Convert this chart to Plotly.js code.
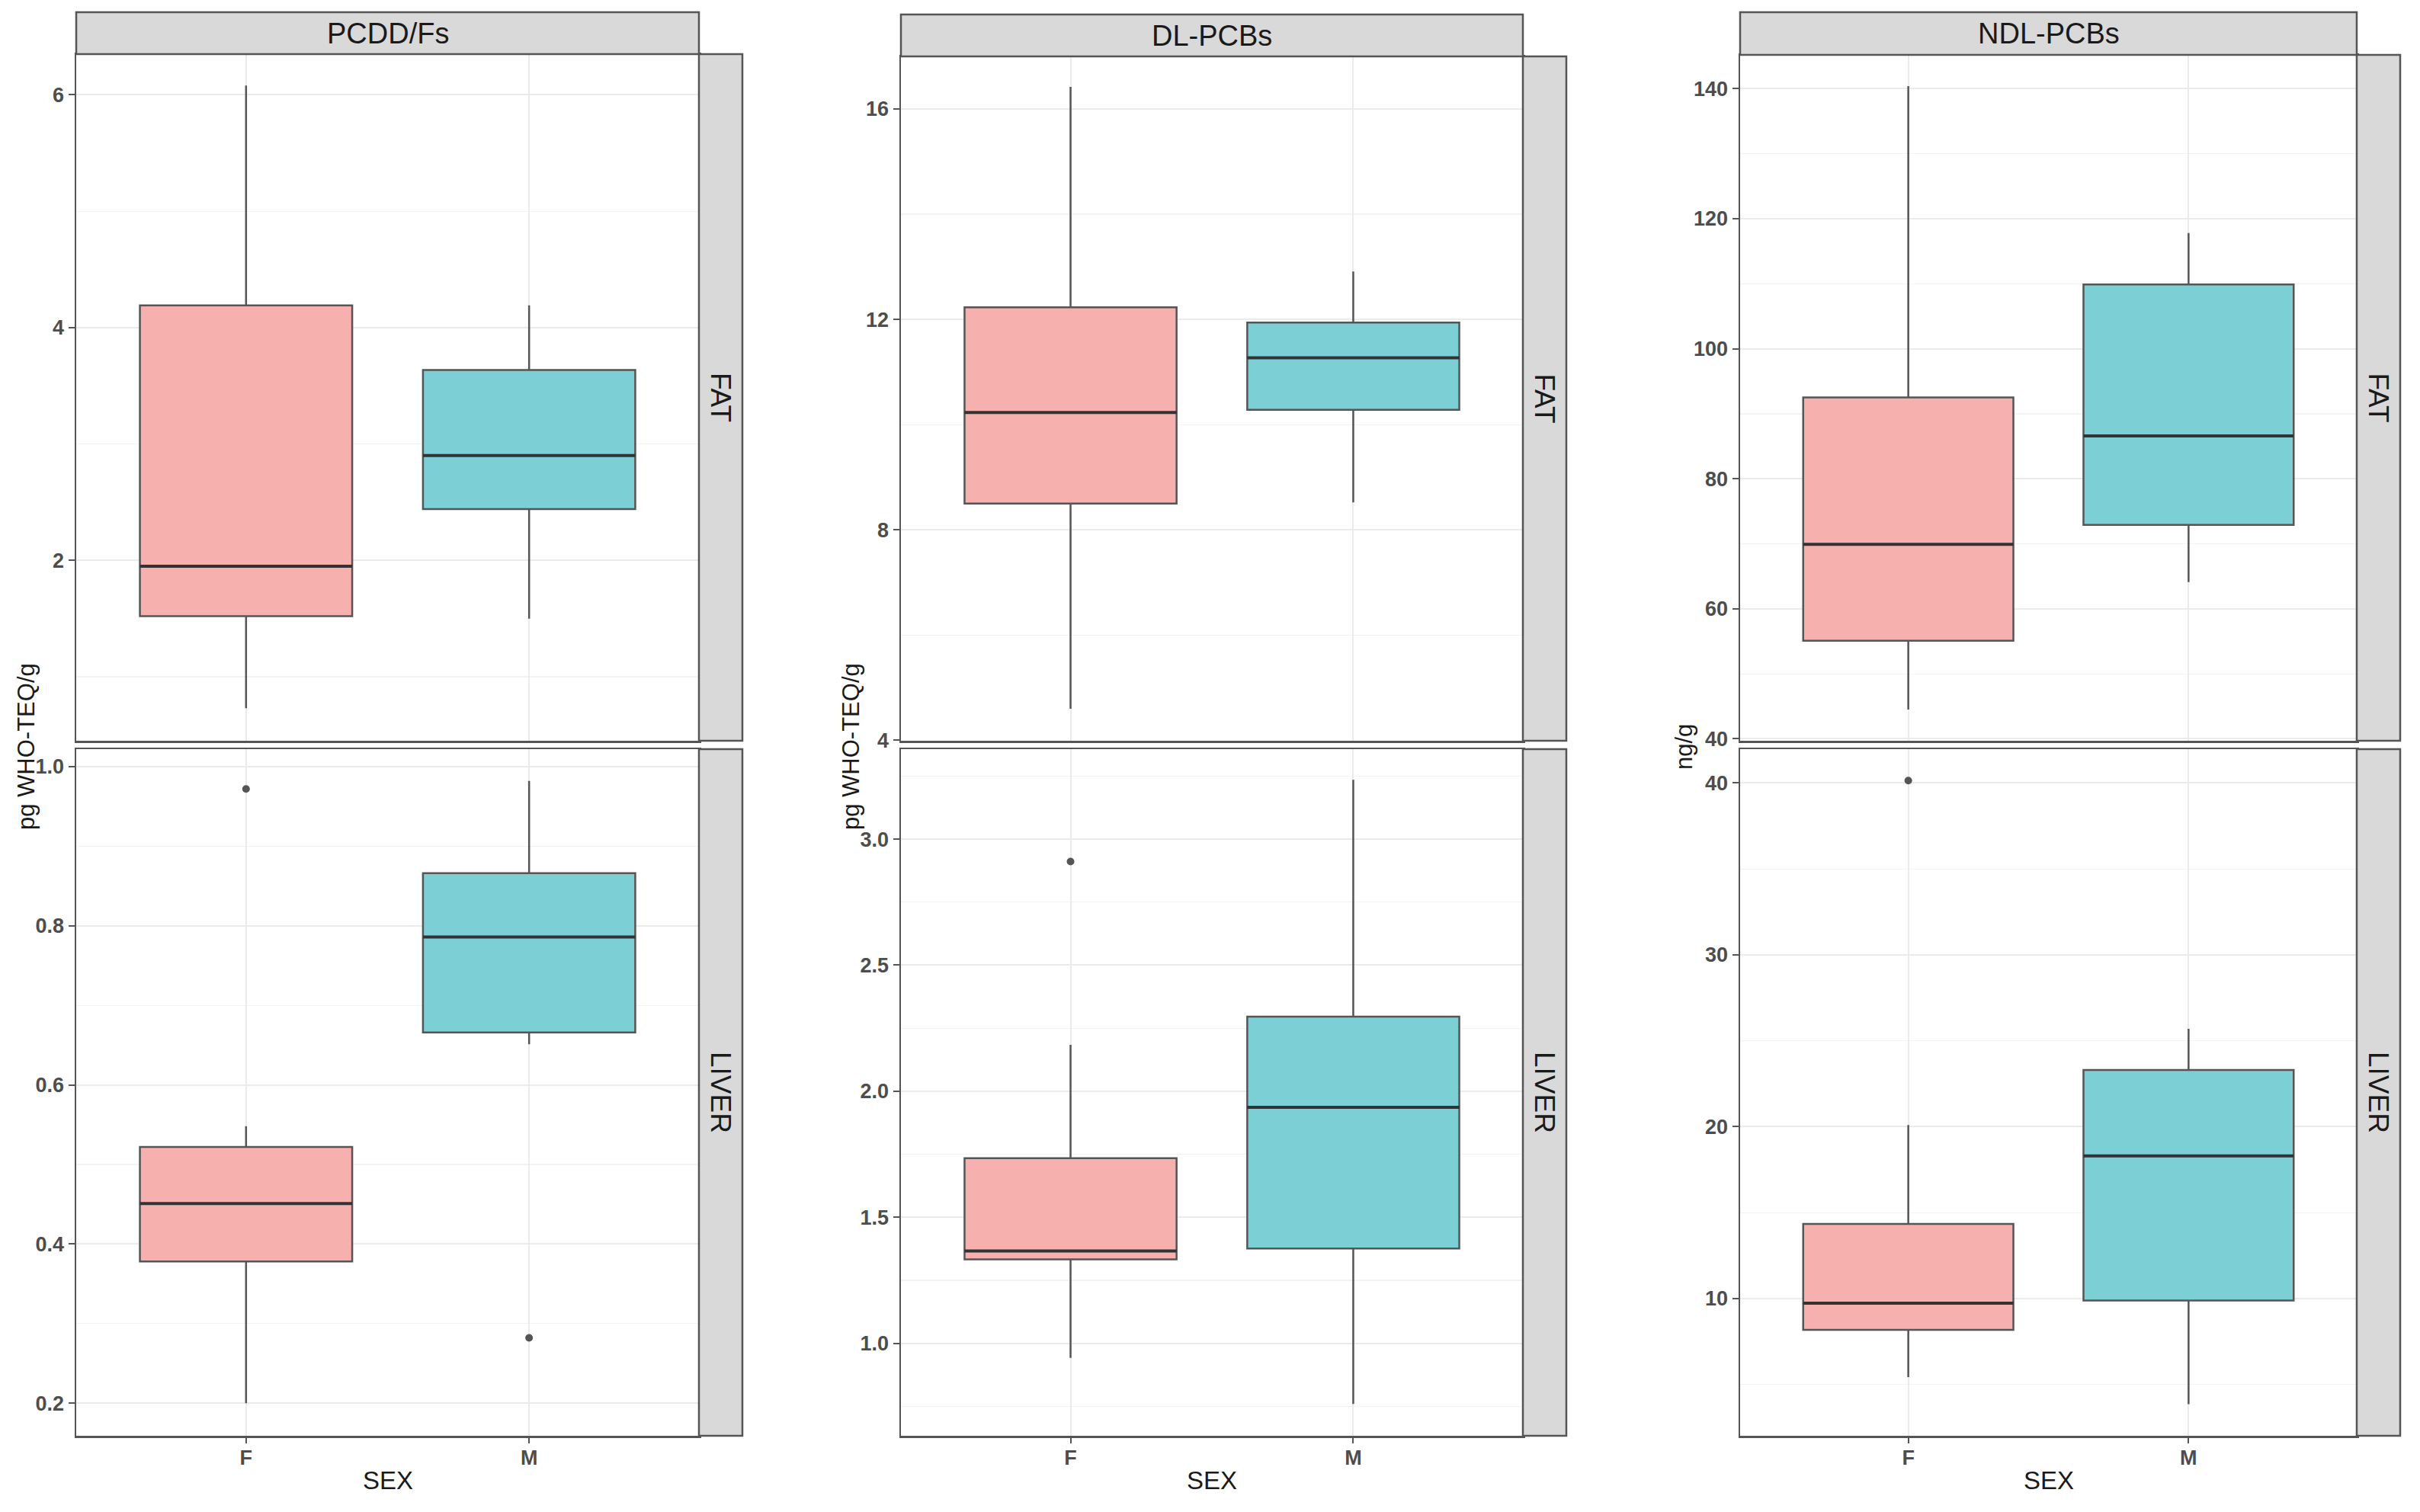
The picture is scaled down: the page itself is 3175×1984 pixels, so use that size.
<!DOCTYPE html>
<html><head><meta charset="utf-8">
<script src="https://cdn.plot.ly/plotly-3.0.1.min.js"></script>
<style>html,body{margin:0;padding:0;background:#fff;}</style>
</head><body><div id="chart" style="width:3175px;height:1984px;"></div>
<script>
// ---------- data ----------
const sexes = ['F', 'M'];
const compounds = ['PCDD/Fs', 'DL-PCBs', 'NDL-PCBs'];
const tissues = ['FAT', 'LIVER'];
const yTitles = ['pg WHO-TEQ/g', 'pg WHO-TEQ/g', 'ng/g'];
const xTitle = 'SEX';

// [lower whisker, Q1, median, Q3, upper whisker]
const pcddFatF   = [0.73, 1.52, 1.95, 4.19, 6.08];
const pcddFatM   = [1.50, 2.44, 2.90, 3.635, 4.19];
const pcddLiverF = [0.200, 0.378, 0.451, 0.522, 0.548];
const pcddLiverM = [0.651, 0.666, 0.786, 0.866, 0.982];
const dlFatF     = [4.60, 8.50, 10.23, 12.23, 16.42];
const dlFatM     = [8.52, 10.28, 11.27, 11.94, 12.91];
const dlLiverF   = [0.942, 1.333, 1.366, 1.734, 2.184];
const dlLiverM   = [0.759, 1.376, 1.936, 2.296, 3.235];
const ndlFatF    = [44.5, 55.1, 69.9, 92.5, 140.4];
const ndlFatM    = [64.1, 72.9, 86.6, 109.9, 117.8];
const ndlLiverF  = [5.43, 8.18, 9.74, 14.35, 20.1];
const ndlLiverM  = [3.86, 9.89, 18.3, 23.3, 25.7];

// outliers
const pcddFatOutF = [], pcddFatOutM = [];
const pcddLiverOutF = [0.972], pcddLiverOutM = [0.282];
const dlFatOutF = [], dlFatOutM = [];
const dlLiverOutF = [2.911], dlLiverOutM = [];
const ndlFatOutF = [], ndlFatOutM = [];
const ndlLiverOutF = [40.14], ndlLiverOutM = [];

// axis settings (ranges / ticks)
const yRanges = [[0.45, 6.35], [3.99, 17.0], [39.7, 145.2], [0.159, 1.022], [0.633, 3.357], [2.02, 41.97]];
const yDticks = [2, 4, 20, 0.2, 0.5, 10];
const yMinor  = [1, 2, 10, 0.1, 0.25, 5];
const yFormat = ['', '', '', '.1f', '.1f', ''];

const stats = [
  [pcddFatF, pcddFatM], [dlFatF, dlFatM], [ndlFatF, ndlFatM],
  [pcddLiverF, pcddLiverM], [dlLiverF, dlLiverM], [ndlLiverF, ndlLiverM]
];
const outs = [
  [pcddFatOutF, pcddFatOutM], [dlFatOutF, dlFatOutM], [ndlFatOutF, ndlFatOutM],
  [pcddLiverOutF, pcddLiverOutM], [dlLiverOutF, dlLiverOutM], [ndlLiverOutF, ndlLiverOutM]
];

// ---------- layout geometry (pixels) ----------
const W = 3175, H = 1984;
const px = v => v / W;
const py = v => 1 - v / H;
const colX = [[100, 917], [1182, 1998], [2283, 3092]];
const stripW = 57;
const stripTop = [[16, 71], [19, 74], [16, 72]];
const rowY = [[[71, 972], [74, 972], [72, 972]], [[983, 1884], [983, 1884], [983, 1884]]];
const fills = ['#F6B0AE', '#7CCFD5'];
const boxW = 0.75;
const font = 'Liberation Sans, Arial, sans-serif';

const traces = [];
const layout = {
  width: W, height: H, margin: {l: 0, r: 0, t: 0, b: 0},
  paper_bgcolor: '#fff', plot_bgcolor: '#fff', showlegend: false,
  boxmode: 'overlay', shapes: [], annotations: []
};

for (let r = 0; r < 2; r++) {
  for (let c = 0; c < 3; c++) {
    const k = r * 3 + c;
    const i = k + 1;
    const [L, R] = colX[c];
    const [T, B] = rowY[r][c];
    layout['xaxis' + i] = {
      domain: [px(L), px(R)], range: [0.4, 2.6], anchor: 'y' + i,
      tickvals: [1, 2], ticktext: sexes, showticklabels: r === 1,
      ticks: r === 1 ? 'outside' : '', ticklen: 7, tickwidth: 2, tickcolor: '#555',
      ticklabelstandoff: -4,
      tickfont: {family: font, size: 27, color: '#4D4D4D', weight: 'bold'},
      showgrid: true, gridcolor: '#EBEBEB', gridwidth: 2,
      showline: true, mirror: true, linecolor: '#555', linewidth: 2.5, zeroline: false, fixedrange: true
    };
    layout['yaxis' + i] = {
      domain: [py(B), py(T)], range: yRanges[k], anchor: 'x' + i,
      dtick: yDticks[k], tick0: 0, tickformat: yFormat[k],
      ticks: 'outside', ticklen: 8, tickwidth: 2, tickcolor: '#555',
      tickfont: {family: font, size: 27, color: '#4D4D4D', weight: 'bold'},
      showgrid: true, gridcolor: '#EBEBEB', gridwidth: 2,
      minor: {dtick: yMinor[k], tick0: 0, showgrid: true, gridcolor: '#F3F3F3', gridwidth: 1.2, ticks: ''},
      showline: true, mirror: true, linecolor: '#555', linewidth: 2.5, zeroline: false, fixedrange: true
    };
    for (let s = 0; s < 2; s++) {
      const st = stats[k][s];
      const pos = s + 1;
      traces.push({
        type: 'box', x: [pos], lowerfence: [st[0]], q1: [st[1]], median: [st[2]], q3: [st[3]], upperfence: [st[4]],
        width: boxW, fillcolor: fills[s], line: {color: '#555', width: 2.5}, whiskerwidth: 0,
        boxpoints: false, xaxis: 'x' + i, yaxis: 'y' + i, hoverinfo: 'skip'
      });
      traces.push({
        type: 'scatter', mode: 'lines', x: [pos - boxW / 2, pos + boxW / 2], y: [st[2], st[2]],
        line: {color: '#333', width: 4}, xaxis: 'x' + i, yaxis: 'y' + i, hoverinfo: 'skip'
      });
      if (outs[k][s].length) {
        traces.push({
          type: 'scatter', mode: 'markers', x: outs[k][s].map(() => pos), y: outs[k][s],
          marker: {color: '#555', size: 10}, xaxis: 'x' + i, yaxis: 'y' + i, hoverinfo: 'skip'
        });
      }
    }
    // right strip
    layout.shapes.push({type: 'rect', xref: 'paper', yref: 'paper', x0: px(R), x1: px(R + stripW), y0: py(B), y1: py(T),
      fillcolor: '#D9D9D9', line: {color: '#555', width: 2.5}, layer: 'above'});
    layout.annotations.push({xref: 'paper', yref: 'paper', x: px(R + stripW / 2), y: py((T + B) / 2),
      text: tissues[r], textangle: 90, showarrow: false, xanchor: 'center', yanchor: 'middle',
      font: {family: font, size: 37, color: '#1A1A1A'}});
  }
}

for (let c = 0; c < 3; c++) {
  const [L, R] = colX[c];
  const [sT, sB] = stripTop[c];
  layout.shapes.push({type: 'rect', xref: 'paper', yref: 'paper', x0: px(L), x1: px(R), y0: py(sB), y1: py(sT),
    fillcolor: '#D9D9D9', line: {color: '#555', width: 2.5}, layer: 'above'});
  layout.annotations.push({xref: 'paper', yref: 'paper', x: px((L + R) / 2), y: py((sT + sB) / 2),
    text: compounds[c], showarrow: false, xanchor: 'center', yanchor: 'middle',
    font: {family: font, size: 38, color: '#1A1A1A'}});
  layout.annotations.push({xref: 'paper', yref: 'paper', x: px((L + R) / 2), y: py(1942),
    text: xTitle, showarrow: false, xanchor: 'center', yanchor: 'middle',
    font: {family: font, size: 33, color: '#1A1A1A'}});
}
const yTitleX = [35, 1117, 2210];
for (let c = 0; c < 3; c++) {
  layout.annotations.push({xref: 'paper', yref: 'paper', x: px(yTitleX[c]), y: py(980),
    text: yTitles[c], textangle: -90, showarrow: false, xanchor: 'center', yanchor: 'middle',
    font: {family: font, size: 31, color: '#1A1A1A'}});
}

Plotly.newPlot('chart', traces, layout, {staticPlot: true, displayModeBar: false});
</script></body></html>
